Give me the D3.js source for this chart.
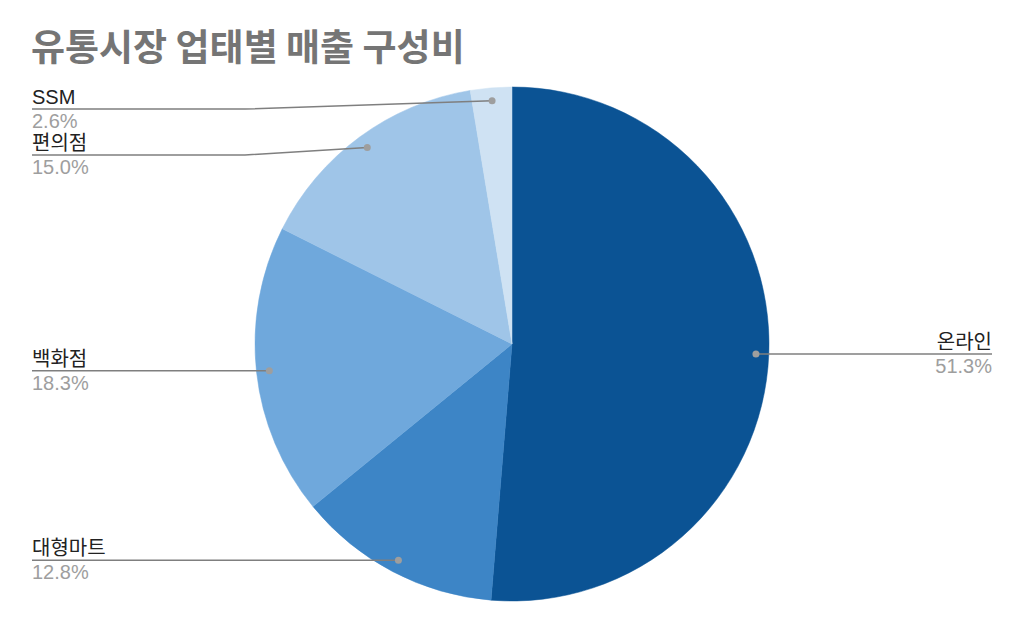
<!DOCTYPE html>
<html>
<head>
<meta charset="utf-8">
<script src="https://cdn.jsdelivr.net/npm/d3@7"></script>
<style>
  html, body { margin: 0; padding: 0; background: #fff; }
  svg { display: block; }
</style>
</head>
<body>
<div id="chart"></div>
<script>
// data
const categories = ["온라인", "대형마트", "백화점", "편의점", "SSM"];
const shares = [51.3, 12.8, 18.3, 15.0, 2.6];
const sliceColors = ["#0b5394", "#3d85c6", "#6fa8dc", "#9fc5e8", "#cfe2f3"];

const width = 1024, height = 633;
const cx = 512, cy = 344, radius = 257;
const font = "'Liberation Sans', Arial, 'Noto Sans CJK KR', sans-serif";

const svg = d3.select("#chart").append("svg")
  .attr("width", width)
  .attr("height", height);

svg.append("text")
  .attr("x", 31)
  .attr("y", 61)
  .attr("font-family", "'Noto Sans CJK KR', sans-serif")
  .attr("font-weight", "bold")
  .attr("font-size", 37)
  .attr("fill", "#757575")
  .text("유통시장 업태별 매출 구성비");

const rows = categories.map((c, i) => ({ name: c, value: shares[i], color: sliceColors[i] }));

const pie = d3.pie().value(d => d.value).sort(null);
const arcs = pie(rows);
const arc = d3.arc().innerRadius(0).outerRadius(radius);
const dotArc = d3.arc().innerRadius(radius * 0.95).outerRadius(radius * 0.95);

const g = svg.append("g").attr("transform", `translate(${cx},${cy})`);

g.selectAll("path.slice")
  .data(arcs)
  .enter()
  .append("path")
  .attr("class", "slice")
  .attr("d", arc)
  .attr("fill", d => d.data.color)
  .attr("stroke", d => d.data.color)
  .attr("stroke-width", 0.5);

// label positions
arcs.forEach(a => {
  const [x, y] = dotArc.centroid(a);
  a.dx = cx + x;
  a.dy = cy + y;
  a.left = a.dx < cx;
});

// push left labels apart, top to bottom
const leftOnes = arcs.filter(a => a.left).sort((a, b) => a.dy - b.dy);
let prevY = 63;
leftOnes.forEach(a => {
  a.ly = Math.max(a.dy, prevY + 46);
  prevY = a.ly;
});
arcs.filter(a => !a.left).forEach(a => { a.ly = a.dy; });

const labelLeft = 32, labelRight = 992, elbowX = 245;

const lab = svg.append("g");

lab.selectAll("path.leader")
  .data(arcs)
  .enter()
  .append("path")
  .attr("class", "leader")
  .attr("fill", "none")
  .attr("stroke", "#7f7f7f")
  .attr("stroke-width", 1.5)
  .attr("d", a => a.left
    ? `M${labelLeft},${a.ly}H${Math.min(elbowX, a.dx)}L${a.dx},${a.dy}`
    : `M${a.dx},${a.dy}L${labelRight},${a.ly}`);

lab.selectAll("circle.dot")
  .data(arcs)
  .enter()
  .append("circle")
  .attr("class", "dot")
  .attr("cx", a => a.dx)
  .attr("cy", a => a.dy)
  .attr("r", 3.5)
  .attr("fill", "#9e9e9e");

lab.selectAll("text.name")
  .data(arcs)
  .enter()
  .append("text")
  .attr("class", "name")
  .attr("x", a => a.left ? labelLeft : labelRight)
  .attr("y", a => a.ly - 5)
  .attr("text-anchor", a => a.left ? "start" : "end")
  .attr("font-family", font)
  .attr("font-size", 20)
  .attr("fill", "#222")
  .text(a => a.data.name);

lab.selectAll("text.pct")
  .data(arcs)
  .enter()
  .append("text")
  .attr("class", "pct")
  .attr("x", a => a.left ? labelLeft : labelRight)
  .attr("y", a => a.ly + 19)
  .attr("text-anchor", a => a.left ? "start" : "end")
  .attr("font-family", font)
  .attr("font-size", 20)
  .attr("fill", "#9e9e9e")
  .text(a => a.data.value.toFixed(1) + "%");
</script>
</body>
</html>
